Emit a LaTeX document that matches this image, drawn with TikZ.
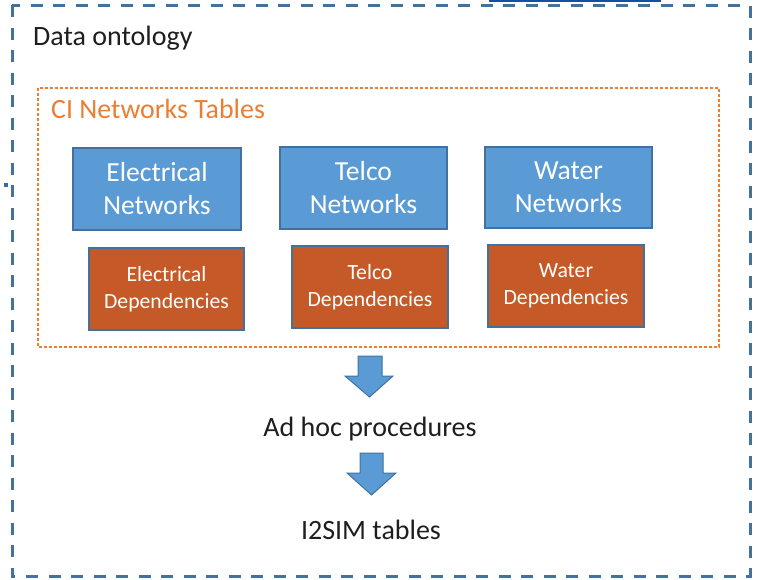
\documentclass[tikz,border=0pt]{standalone}
\usepackage{fontspec}
\setmainfont{Carlito}
\definecolor{outerblue}{RGB}{68,114,158}
\definecolor{ciorange}{RGB}{237,125,49}
\definecolor{netblue}{RGB}{91,155,213}
\definecolor{netedge}{RGB}{65,113,156}
\definecolor{deporange}{RGB}{197,90,40}
\definecolor{txtdark}{RGB}{30,30,30}
\definecolor{handleblue}{RGB}{20,80,160}
\tikzset{
  netbox/.style={draw=netedge, line width=1.3pt, fill=netblue, text=white, align=center,
    inner sep=0pt, font=\fontsize{27.6}{33}\selectfont},
  depbox/.style={draw=netedge, line width=1.3pt, fill=deporange, text=white, align=center,
    inner sep=0pt, font=\fontsize{21.7}{27}\selectfont},
  blockarrow/.style={draw=netedge, line width=1pt, fill=netblue},
  plaintext/.style={text=txtdark, inner sep=0pt, font=\fontsize{28}{33}\selectfont}
}
\begin{document}
\begin{tikzpicture}[x=1pt,y=-1pt]
\useasboundingbox (0,0) rectangle (758,579);
% outer dashed container
\draw[outerblue, line width=3pt, dash pattern=on 12pt off 10.5pt] (12,5) rectangle (750,576);
% small artefacts seen on the reference
\draw[handleblue, line width=2pt] (489,1) -- (661,1);
\fill[outerblue!80!handleblue] (4,183) rectangle (8,187);
% title
\node[plaintext, anchor=base west] (title) at (33,45) {Data ontology};
% CI networks container
\draw[ciorange, line width=1.2pt, dash pattern=on 3pt off 2pt] (38,88) rectangle (719,347);
\node[text=ciorange, inner sep=0pt, anchor=base west, font=\fontsize{27.9}{33}\selectfont] (citables) at (51,118) {CI Networks Tables};
% network boxes
\node[netbox, minimum width=168pt, minimum height=82pt] (elnet) at (157,189) {Electrical\\Networks};
\node[netbox, minimum width=167pt, minimum height=82pt] (tcnet) at (363.5,188) {Telco\\Networks};
\node[netbox, minimum width=167pt, minimum height=81pt] (wtnet) at (568.5,187.5) {Water\\Networks};
% dependency boxes
\node[depbox, minimum width=155pt, minimum height=82pt] (eldep) at (166.5,289) {Electrical\\Dependencies};
\node[depbox, minimum width=156pt, minimum height=82pt] (tcdep) at (370,287) {Telco\\Dependencies};
\node[depbox, minimum width=156pt, minimum height=82pt] (wtdep) at (566,286) {Water\\Dependencies};
% procedures
\node[plaintext, anchor=base] (adhoc) at (370,436) {Ad hoc procedures};
\node[plaintext, anchor=base] (i2sim) at (371,539) {I2SIM tables};
% block arrows
\draw[blockarrow] (358,356) -- (382,356) -- (382,376) -- (393,376) -- (369.5,397) -- (345,376) -- (358,376) -- cycle;
\draw[blockarrow] (360,453) -- (383,453) -- (383,473) -- (396,473) -- (371.5,495) -- (347,473) -- (360,473) -- cycle;
\end{tikzpicture}
\end{document}
